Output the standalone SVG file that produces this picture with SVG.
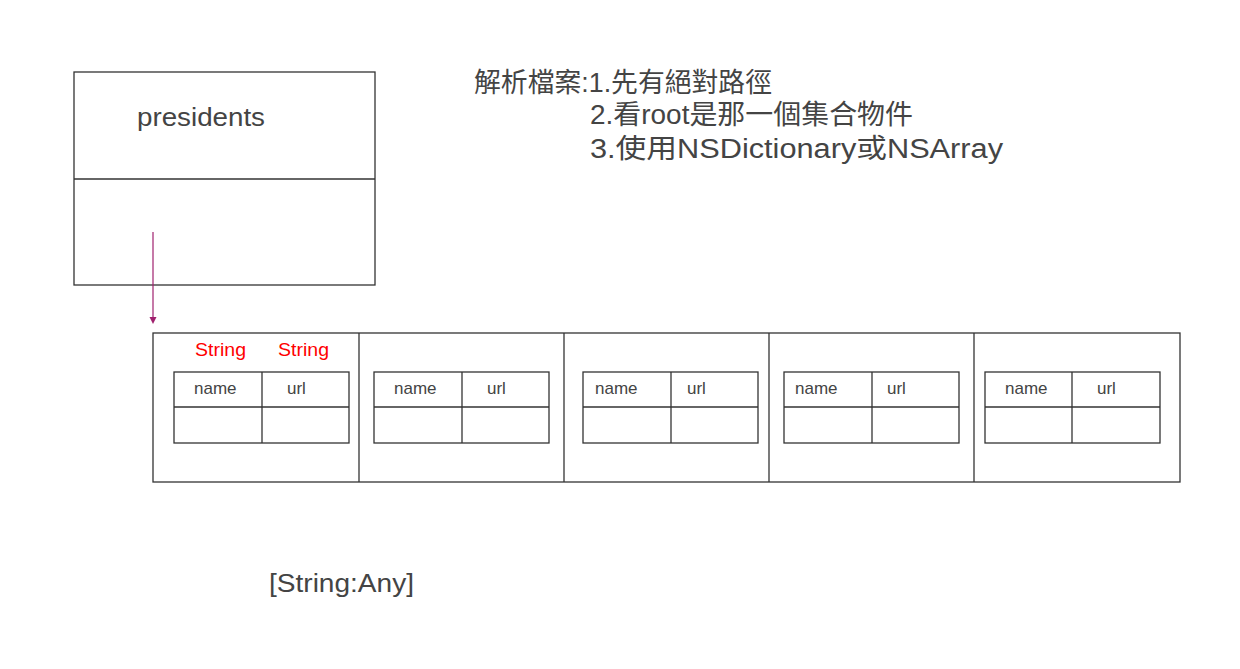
<svg xmlns="http://www.w3.org/2000/svg" width="1240" height="669" viewBox="0 0 1240 669">
<style>
.box{fill:none;stroke:#333;stroke-width:1.3}
.t{font-family:"Liberation Sans","Noto Sans CJK TC",sans-serif;fill:#444}
.sm{font-size:17px}
.red{font-family:"Liberation Sans",sans-serif;font-size:18px;fill:#f00}
.cjk{font-family:"Liberation Sans","Noto Sans CJK TC",sans-serif;font-size:27px;fill:#444}
</style>
<rect width="1240" height="669" fill="#fff"/>
<g id="presidents">
<rect class="box" x="74" y="72" width="301" height="213"/>
<line class="box" x1="74" y1="179" x2="375" y2="179"/>
<text class="t" x="137" y="126" font-size="26" textLength="128" lengthAdjust="spacingAndGlyphs">presidents</text>
</g>
<g id="notes">
<text class="cjk" x="474" y="92" textLength="298" lengthAdjust="spacingAndGlyphs">解析檔案:1.先有絕對路徑</text>
<text class="cjk" x="590" y="124" textLength="323" lengthAdjust="spacingAndGlyphs">2.看root是那一個集合物件</text>
<text class="cjk" x="590" y="158" textLength="413" lengthAdjust="spacingAndGlyphs">3.使用NSDictionary或NSArray</text>
</g>
<g id="array">
<rect class="box" x="153" y="333" width="1027" height="149"/>
<line class="box" x1="359" y1="333" x2="359" y2="482"/>
<line class="box" x1="564" y1="333" x2="564" y2="482"/>
<line class="box" x1="769" y1="333" x2="769" y2="482"/>
<line class="box" x1="974" y1="333" x2="974" y2="482"/>
</g>
<g id="types">
<text class="red" x="195" y="356" textLength="51" lengthAdjust="spacingAndGlyphs">String</text>
<text class="red" x="278" y="356" textLength="51" lengthAdjust="spacingAndGlyphs">String</text>
</g>
<g id="dict1">
<rect class="box" x="174" y="372" width="175" height="71"/>
<line class="box" x1="174" y1="407" x2="349" y2="407"/>
<line class="box" x1="262" y1="372" x2="262" y2="443"/>
<text class="t sm" x="194" y="394">name</text>
<text class="t sm" x="287" y="394">url</text>
</g>
<g id="dict2">
<rect class="box" x="374" y="372" width="175" height="71"/>
<line class="box" x1="374" y1="407" x2="549" y2="407"/>
<line class="box" x1="462" y1="372" x2="462" y2="443"/>
<text class="t sm" x="394" y="394">name</text>
<text class="t sm" x="487" y="394">url</text>
</g>
<g id="dict3">
<rect class="box" x="583" y="372" width="175" height="71"/>
<line class="box" x1="583" y1="407" x2="758" y2="407"/>
<line class="box" x1="671" y1="372" x2="671" y2="443"/>
<text class="t sm" x="595" y="394">name</text>
<text class="t sm" x="687" y="394">url</text>
</g>
<g id="dict4">
<rect class="box" x="784" y="372" width="175" height="71"/>
<line class="box" x1="784" y1="407" x2="959" y2="407"/>
<line class="box" x1="872" y1="372" x2="872" y2="443"/>
<text class="t sm" x="795" y="394">name</text>
<text class="t sm" x="887" y="394">url</text>
</g>
<g id="dict5">
<rect class="box" x="985" y="372" width="175" height="71"/>
<line class="box" x1="985" y1="407" x2="1160" y2="407"/>
<line class="box" x1="1072" y1="372" x2="1072" y2="443"/>
<text class="t sm" x="1005" y="394">name</text>
<text class="t sm" x="1097" y="394">url</text>
</g>
<g id="label">
<text class="t" x="269" y="592" font-size="26" textLength="145" lengthAdjust="spacingAndGlyphs">[String:Any]</text>
</g>
<g id="connectors">
<line x1="153" y1="232" x2="153" y2="318" stroke="#a0206e" stroke-width="1.2"/>
<path d="M149.5,317 L156.5,317 L153,324 Z" fill="#a0206e"/>
</g>
</svg>
